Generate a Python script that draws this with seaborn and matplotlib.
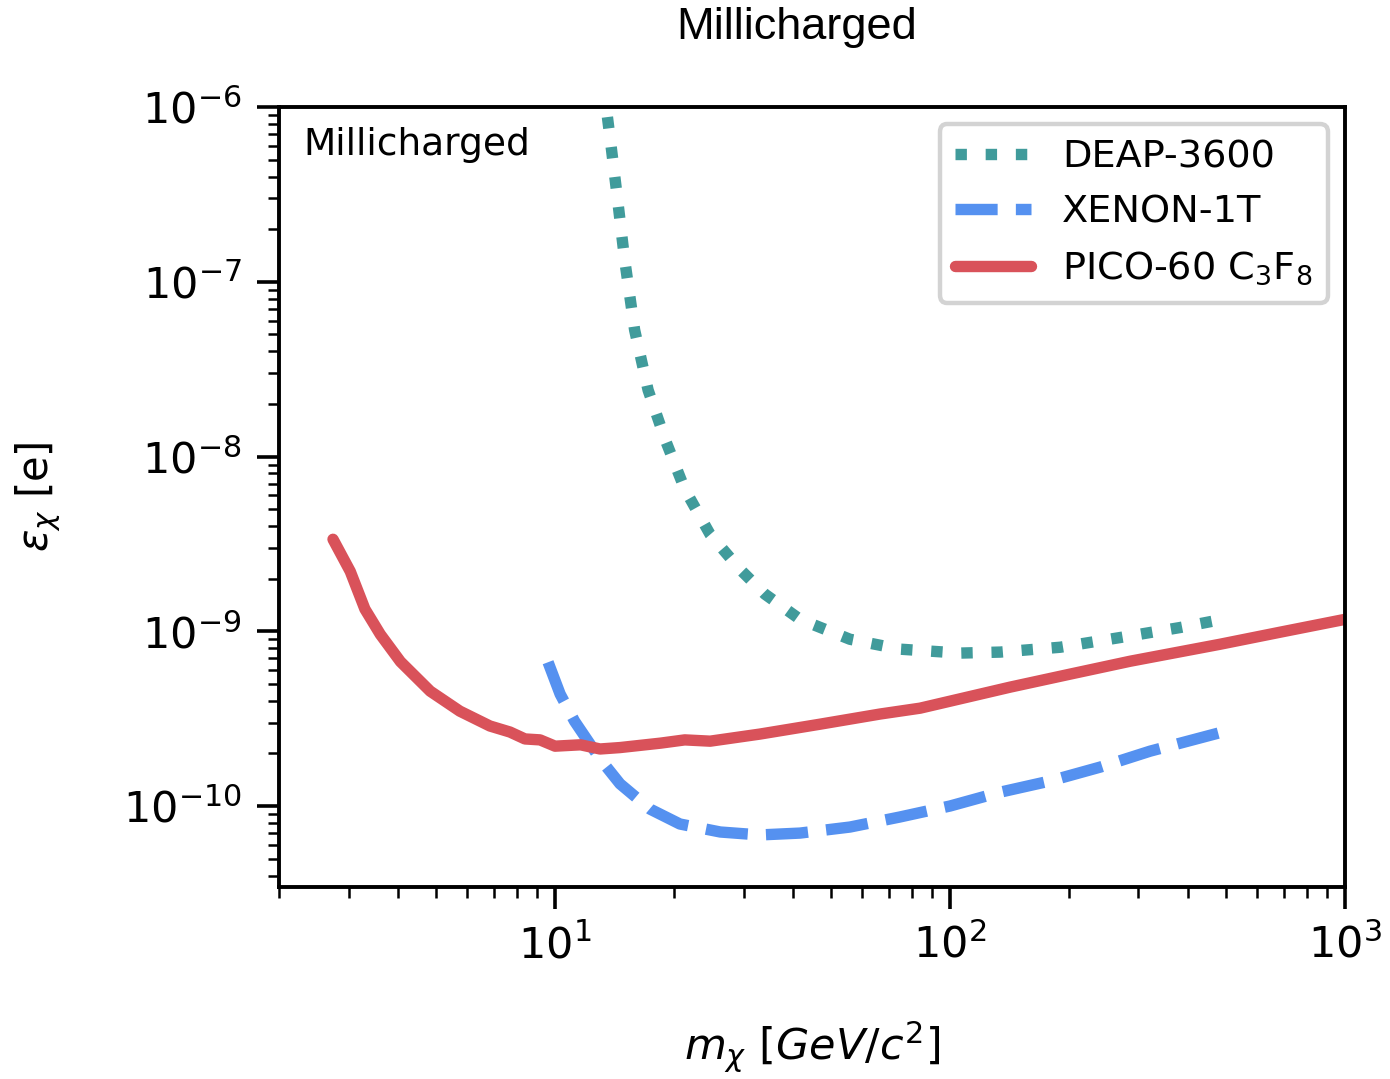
import numpy as np
import pandas as pd
import seaborn as sns
import matplotlib
matplotlib.use("Agg")
import matplotlib.pyplot as plt

# ---------------- data ----------------
pico_mass = [2.74, 3.03, 3.30, 3.61, 4.06, 4.83, 5.74, 6.84, 7.69, 8.39, 9.16, 10.0,
             11.6, 13.0, 14.6, 18.5, 21.3, 24.7, 33.0, 46.9, 66.5, 84.0, 100.0,
             142.0, 201.0, 286.0, 483.0, 684.0, 1000.0]
pico_eps = [3.36e-9, 2.2e-9, 1.34e-9, 9.6e-10, 6.7e-10, 4.54e-10, 3.49e-10, 2.87e-10,
            2.65e-10, 2.42e-10, 2.39e-10, 2.2e-10, 2.24e-10, 2.12e-10, 2.16e-10,
            2.29e-10, 2.39e-10, 2.35e-10, 2.58e-10, 2.94e-10, 3.36e-10, 3.63e-10,
            3.98e-10, 4.79e-10, 5.68e-10, 6.74e-10, 8.43e-10, 9.87e-10, 1.17e-9]

xenon_mass = [9.6, 10.3, 11.2, 13.0, 14.6, 17.4, 20.7, 26.2, 33.0, 41.7, 55.8, 74.6,
              100.0, 134.0, 179.0, 240.0, 321.0, 489.0]
xenon_eps = [6.65e-10, 4.37e-10, 3.06e-10, 1.86e-10, 1.34e-10, 9.6e-11, 7.89e-11,
             7.1e-11, 6.83e-11, 7.0e-11, 7.58e-11, 8.65e-11, 1.0e-10, 1.2e-10,
             1.39e-10, 1.67e-10, 2.06e-10, 2.65e-10]

deap_mass = [13.3, 13.5, 13.9, 14.4, 15.0, 15.9, 17.2, 19.0, 21.3, 24.7, 29.4, 34.0,
             41.7, 55.8, 74.6, 106.0, 134.0, 190.0, 269.0, 382.0, 489.0]
deap_eps = [1.3e-6, 9.6e-7, 5.68e-7, 2.94e-7, 1.34e-7, 5.3e-8, 2.4e-8, 1.25e-8,
            6.5e-9, 3.58e-9, 2.26e-9, 1.63e-9, 1.17e-9, 9.0e-10, 7.9e-10, 7.5e-10,
            7.6e-10, 8.1e-10, 9.2e-10, 1.05e-9, 1.17e-9]

labels = ["DEAP-3600", "XENON-1T", "PICO-60 C$_3$F$_8$"]
colors = ["#409B9B", "#5591F0", "#D9525A"]

# ---------------- plotting ----------------
sns.set_style("ticks")
plt.rcParams["font.family"] = ["DejaVu Sans"]
plt.rcParams["mathtext.fontset"] = "dejavusans"
for k in ["text.color", "axes.labelcolor", "xtick.color", "ytick.color", "axes.edgecolor"]:
    plt.rcParams[k] = "black"

fig = plt.figure(figsize=(13.9, 10.79), dpi=100)
ax = fig.add_axes([279 / 1390, 1 - 887 / 1079, (1345 - 279) / 1390, (887 - 107) / 1079])

df_deap = pd.DataFrame({"m": deap_mass, "eps": deap_eps})
df_xen = pd.DataFrame({"m": xenon_mass, "eps": xenon_eps})
df_pico = pd.DataFrame({"m": pico_mass, "eps": pico_eps})

lw = 8.2
sns.lineplot(data=df_deap, x="m", y="eps", ax=ax, color=colors[0], lw=lw,
             linestyle=":", label=labels[0], sort=False)
sns.lineplot(data=df_xen, x="m", y="eps", ax=ax, color=colors[1], lw=lw,
             linestyle="--", label=labels[1], sort=False)
sns.lineplot(data=df_pico, x="m", y="eps", ax=ax, color=colors[2], lw=lw,
             linestyle="-", label=labels[2], sort=False)

ax.set_xscale("log")
ax.set_yscale("log")
ax.set_xlim(2, 1000)
ax.set_ylim(3.44e-11, 1e-6)

for s in ax.spines.values():
    s.set_linewidth(2.8)
    s.set_color("black")

ax.tick_params(which="major", direction="out", length=16, width=2.6,
               labelsize=31, pad=11, color="black", labelcolor="black")
ax.tick_params(which="minor", direction="out", length=8, width=1.8, color="black")

ax.set_xlabel(r"$m_\chi\ [GeV/c^2]$", fontsize=31, color="black")
ax.set_ylabel(r"$\epsilon_\chi$ [e]", fontsize=30, color="black")
ax.xaxis.set_label_coords(0.5, -0.171)
ax.yaxis.set_label_coords(-0.2026, 0.5)

ax.text(0.023, 0.951, "Millicharged", transform=ax.transAxes, fontsize=27,
        ha="left", va="center", color="black")

leg = ax.legend(loc="upper right", fontsize=27.5, frameon=True, fancybox=True,
                borderaxespad=0.45)
leg.get_frame().set_edgecolor("#c8c8c8")
leg.get_frame().set_linewidth(3.2)
for t in leg.get_texts():
    t.set_color("black")

fig.text(797 / 1390, 1 - 28 / 1079, "Millicharged", fontsize=32.5,
         family=["Liberation Sans", "DejaVu Sans"], ha="center", va="center",
         color="black")

fig.savefig("out.png", dpi=100)
